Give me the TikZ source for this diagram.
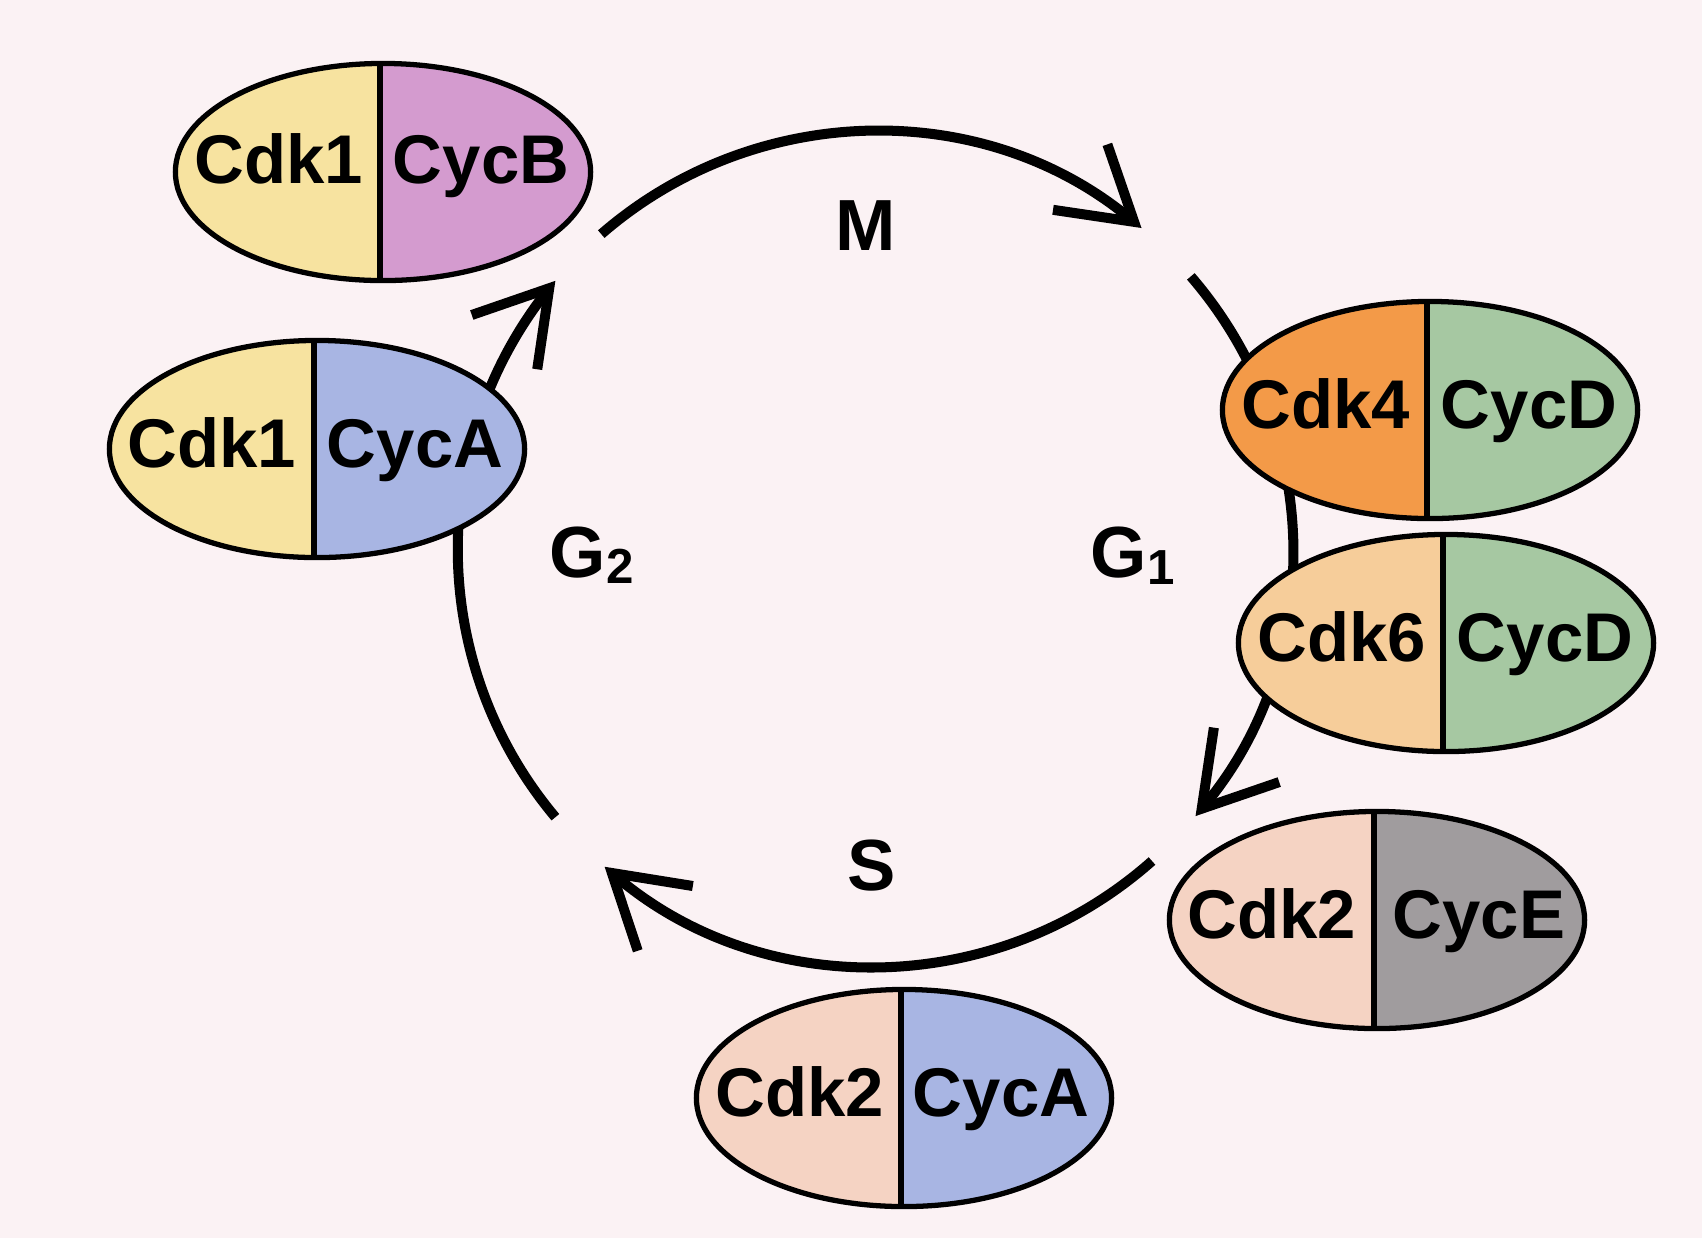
\documentclass[tikz,border=0pt]{standalone}
\usepackage{fontspec}
\setmainfont{Liberation Sans}
\usetikzlibrary{arrows.meta,bending,shapes.geometric}
\definecolor{bg}{HTML}{FBF2F4}
\definecolor{cyell}{HTML}{F7E3A0}
\definecolor{cpurp}{HTML}{D49BCF}
\definecolor{cblue}{HTML}{A8B5E3}
\definecolor{corng}{HTML}{F39A48}
\definecolor{cgrn}{HTML}{A6C8A2}
\definecolor{clorng}{HTML}{F6CD9A}
\definecolor{cpeach}{HTML}{F5D3C3}
\definecolor{cgray}{HTML}{A09C9E}
\begin{document}
\begin{tikzpicture}[x=0.01cm,y=-0.01cm,
  lbl/.style={font=\fontsize{19.6}{22}\selectfont\bfseries, inner sep=0,
    text height=0.49cm, text depth=0pt, anchor=center},
  cplx/.style 2 args={ellipse, draw=black, line width=1.5pt,
    minimum width=4.15cm, minimum height=2.17cm, inner sep=0,
    path picture={
      \fill[#1] (path picture bounding box.south west) rectangle ([xshift=-0.03cm]path picture bounding box.north);
      \fill[#2] ([xshift=-0.03cm]path picture bounding box.north) rectangle (path picture bounding box.south east);
      \draw[line width=1.5pt] ([xshift=-0.03cm]path picture bounding box.north) -- ([xshift=-0.03cm]path picture bounding box.south);}},
  cyc/.style={line width=2.85pt, -{Straight Barb[length=7mm,width=8.5mm,quick]}},
  cycflex/.style={line width=2.85pt, -{Straight Barb[length=7mm,width=8.5mm,flex]}},
  phase/.style={font=\fontsize{20.6}{22}\selectfont\bfseries, inner sep=0}]
\useasboundingbox (0,0) rectangle (1702,1238);
\fill[bg] (0,0) rectangle (1702,1238);
\coordinate (cc) at (875,549);
% cycle arcs
\draw[cyc] (cc) ++(131:4.17cm) arc[start angle=131, end angle=50.3, radius=4.17cm];
\draw[cyc] (cc) ++(40.8:4.17cm) arc[start angle=40.8, end angle=-39.8, radius=4.17cm];
\draw[cyc] (cc) ++(-48.4:4.17cm) arc[start angle=-48.4, end angle=-130.4, radius=4.17cm];
\draw[cycflex] (cc) ++(-140:4.17cm) arc[start angle=-140, end angle=-220, radius=4.17cm];
% complexes
\node[cplx={cyell}{cpurp}] (A) at (383,172) {};
\node[cplx={cyell}{cblue}] (B) at (317,449) {};
\node[cplx={corng}{cgrn}] (C) at (1430,410) {};
\node[cplx={clorng}{cgrn}] (D) at (1446,643) {};
\node[cplx={cpeach}{cgray}] (E) at (1377,920) {};
\node[cplx={cpeach}{cblue}] (F) at (904,1098) {};
% complex labels
\node[lbl] (A-l) at ([shift={(-1.04cm,0.135cm)}]A.center) {Cdk1};
\node[lbl] (A-r) at ([shift={(0.98cm,0.135cm)}]A.center) {CycB};
\node[lbl] (B-l) at ([shift={(-1.05cm,0.065cm)}]B.center) {Cdk1};
\node[lbl] (B-r) at ([shift={(0.98cm,0.065cm)}]B.center) {CycA};
\node[lbl] (C-l) at ([shift={(-1.04cm,0.065cm)}]C.center) {Cdk4};
\node[lbl] (C-r) at ([shift={(0.99cm,0.065cm)}]C.center) {CycD};
\node[lbl] (D-l) at ([shift={(-1.04cm,0.065cm)}]D.center) {Cdk6};
\node[lbl] (D-r) at ([shift={(0.99cm,0.065cm)}]D.center) {CycD};
\node[lbl] (E-l) at ([shift={(-1.05cm,0.065cm)}]E.center) {Cdk2};
\node[lbl] (E-r) at ([shift={(1.02cm,0.065cm)}]E.center) {CycE};
\node[lbl] (F-l) at ([shift={(-1.04cm,0.065cm)}]F.center) {Cdk2};
\node[lbl] (F-r) at ([shift={(0.97cm,0.065cm)}]F.center) {CycA};
% phases
\node[phase, anchor=base] (M) at (866,250) {M};
\node[phase, anchor=base west] (G2) at (549,577) {G\raisebox{-0.06cm}{\fontsize{14}{14}\selectfont 2}};
\node[phase, anchor=base west] (G1) at (1090,577) {G\raisebox{-0.07cm}{\fontsize{14}{14}\selectfont 1}};
\node[phase, anchor=base] (S) at (872,890) {S};
\end{tikzpicture}
\end{document}
